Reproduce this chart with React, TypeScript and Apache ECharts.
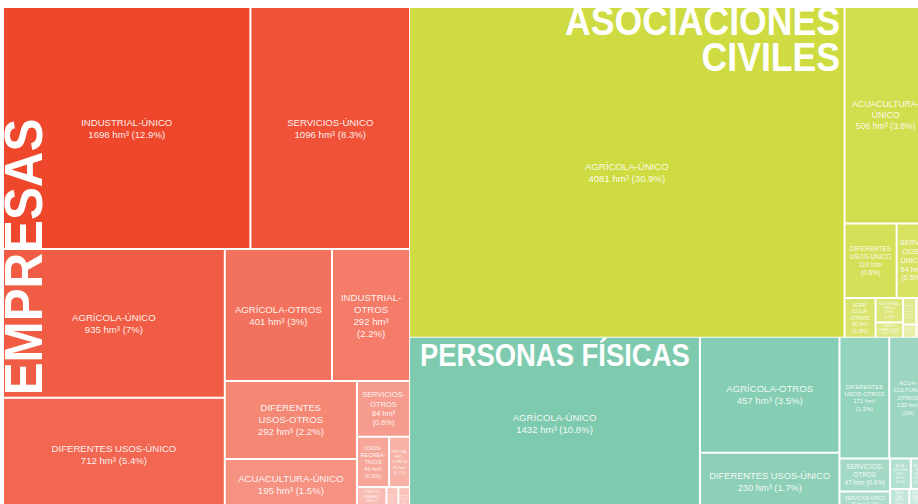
import React, { useEffect, useRef } from "react";
import * as echarts from "echarts";

const GROUPS = ["EMPRESAS", "ASOCIACIONES CIVILES", "PERSONAS FÍSICAS"];
const GROUP_COLORS = ["#ef472c", "#cedc42", "#7ecaae"];

const EMPRESAS_NAMES = [
  "INDUSTRIAL-ÚNICO", "SERVICIOS-ÚNICO", "AGRÍCOLA-ÚNICO", "DIFERENTES USOS-ÚNICO",
  "AGRÍCOLA-OTROS", "INDUSTRIAL-OTROS", "DIFERENTES USOS-OTROS", "ACUACULTURA-ÚNICO",
  "SERVICIOS-OTROS", "USOS-RECREATIVOS", "PECUARIO-OTROS", "PÚBLICO URBANO-ÚNICO",
  "PECUARIO-ÚNICO", "PÚBLICO URBANO-OTROS",
];
const EMPRESAS_VALUES = [1698, 1096, 935, 712, 401, 292, 292, 195, 84, 46, 30, 20, 8, 8];
const EMPRESAS_PCT = [12.9, 8.3, 7, 5.4, 3, 2.2, 2.2, 1.5, 0.6, 0.3, 0.2, 0.2, 0.1, 0.1];

const ASOCIACIONES_NAMES = [
  "AGRÍCOLA-ÚNICO", "ACUACULTURA-ÚNICO", "DIFERENTES USOS-ÚNICO", "SERVICIOS-ÚNICO",
  "AGRÍCOLA-OTROS", "INDUSTRIAL-ÚNICO", "PÚBLICO URBANO-ÚNICO", "PECUARIO-ÚNICO",
  "INDUSTRIAL-OTROS", "SERVICIOS-OTROS", "PECUARIO-OTROS",
];
const ASOCIACIONES_VALUES = [4081, 506, 110, 64, 35, 19, 12, 10, 8, 5, 4];
const ASOCIACIONES_PCT = [30.9, 3.8, 0.8, 0.5, 0.3, 0.1, 0.1, 0.1, 0.1, 0, 0];

const PERSONAS_NAMES = [
  "AGRÍCOLA-ÚNICO", "AGRÍCOLA-OTROS", "DIFERENTES USOS-ÚNICO", "DIFERENTES USOS-OTROS",
  "ACUACULTURA-OTROS", "SERVICIOS-OTROS", "SERVICIOS-ÚNICO", "ACUACULTURA-ÚNICO",
  "PECUARIO-ÚNICO", "INDUSTRIAL-ÚNICO", "PÚBLICO URBANO-ÚNICO",
];
const PERSONAS_VALUES = [1432, 457, 230, 171, 130, 47, 28, 18, 14, 12, 11];
const PERSONAS_PCT = [10.8, 3.5, 1.7, 1.3, 1, 0.4, 0.2, 0.1, 0.1, 0.1, 0.1];

const ALL_NAMES = [EMPRESAS_NAMES, ASOCIACIONES_NAMES, PERSONAS_NAMES];
const ALL_VALUES = [EMPRESAS_VALUES, ASOCIACIONES_VALUES, PERSONAS_VALUES];
const ALL_PCT = [EMPRESAS_PCT, ASOCIACIONES_PCT, PERSONAS_PCT];

// syllable break points used only when a word is far too long for its cell
const HYPHENATION: [string, number][] = [
  ["ACUACULTURA", 4], ["DIFERENTES", 4], ["SERVICIOS", 5], ["INDUSTRIAL", 5],
  ["RECREATIVOS", 6], ["AGRÍCOLA", 4], ["PECUARIO", 5],
];

const FONT = '"Liberation Sans", Arial, Helvetica, sans-serif';
const MAX_F = 9.6;
const LH = 1.25;

function lighten(hex: string, t: number) {
  const n = parseInt(hex.slice(1), 16);
  const r = (n >> 16) & 255, g = (n >> 8) & 255, b = n & 255;
  const m = (c: number) => Math.round(c + (255 - c) * t);
  return `rgb(${m(r)},${m(g)},${m(b)})`;
}

let ctx: CanvasRenderingContext2D | null = null;
function tw(s: string, f: number) {
  if (!ctx) ctx = document.createElement("canvas").getContext("2d");
  ctx!.font = `${f}px ${FONT}`;
  return ctx!.measureText(s).width;
}

type Tok = { t: string; sp: boolean; soft: boolean };
function tokenize(s0: string, level: number): Tok[] {
  if (level === 0) return [{ t: s0, sp: false, soft: false }];
  let s = s0;
  if (level >= 3) {
    for (const [w, k] of HYPHENATION) s = s.split(w).join(w.slice(0, k) + "\u00AD" + w.slice(k));
  }
  const out: Tok[] = [];
  let cur = "";
  for (const ch of s) {
    if (ch === " ") {
      if (cur) out.push({ t: cur, sp: true, soft: false });
      cur = "";
    } else if (ch === "-" && level >= 2) {
      cur += ch;
      out.push({ t: cur, sp: false, soft: false });
      cur = "";
    } else if (ch === "\u00AD") {
      out.push({ t: cur + "-", sp: false, soft: true });
      cur = "";
    } else cur += ch;
  }
  if (cur) out.push({ t: cur, sp: false, soft: false });
  return out;
}
function wrap(tokens: Tok[], f: number, maxW: number): string[] | null {
  const lines: string[] = [];
  let line = "";
  let pend = false;
  let lastSoft = false;
  for (const tk of tokens) {
    if (tw(tk.t, f) > maxW) return null;
    if (!line) line = tk.t;
    else {
      const base = lastSoft ? line.slice(0, -1) : line;
      const cand = base + (pend ? " " : "") + tk.t;
      if (tw(cand, f) <= maxW) line = cand;
      else {
        lines.push(line);
        line = tk.t;
      }
    }
    pend = tk.sp;
    lastSoft = tk.soft;
  }
  if (line) lines.push(line);
  return lines;
}
function fitLevel(name: string, val: string, level: number, aw: number, ah: number) {
  const nt = tokenize(name, level);
  const vt = tokenize(val, Math.min(level, 1));
  for (let f = MAX_F; f >= 1; f -= 0.1) {
    const a = wrap(nt, f, aw), b = wrap(vt, f, aw);
    if (!a || !b) continue;
    const L = [...a, ...b];
    if (L.length * f * LH <= ah) return { f, lines: L };
  }
  return null;
}
function fitLabel(name: string, val: string, w: number, h: number) {
  const pad = Math.max(1, Math.min(8, w * 0.08));
  const aw = w - 2 * pad;
  const ah = h - 2 * Math.max(1, Math.min(6, h * 0.06));
  let best: { f: number; lines: string[] } | null = null;
  for (let level = 0; level <= 2; level++) {
    const r = fitLevel(name, val, level, aw, ah);
    if (!r) continue;
    if (r.f >= 0.95 * MAX_F && !best) return r;
    if (!best || r.f > best.f * 1.1) best = r;
  }
  if (!best || best.f < 5) {
    const r = fitLevel(name, val, 3, aw, ah);
    if (r && (!best || r.f > best.f * 1.2)) best = r;
  }
  return best;
}

const labelMap: Record<string, string> = {};

function buildData(fits: Record<string, { f: number }> | null) {
  return GROUPS.map((g, gi) => ({
    name: g,
    itemStyle: { color: GROUP_COLORS[gi], borderColor: "#fff" },
    children: ALL_NAMES[gi].map((n, i) => {
      const key = g + "|" + n;
      const fit = fits ? fits[key] : null;
      return {
        name: n,
        key,
        value: ALL_VALUES[gi][i],
        itemStyle: { color: lighten(GROUP_COLORS[gi], Math.min(0.68, i * 0.058)) },
        label: fit
          ? { show: true, fontSize: fit.f, lineHeight: fit.f * LH }
          : { show: false },
      };
    }),
  }));
}

function buildOption(fits: Record<string, { f: number }> | null) {
  return {
    animation: false,
    backgroundColor: "#fff",
    series: [
      {
        type: "treemap",
        left: 4,
        top: 8,
        width: 922,
        height: 502,
        roam: false,
        nodeClick: false,
        sort: false,
        breadcrumb: { show: false },
        silent: true,
        visibleMin: 0,
        label: {
          show: true,
          position: "inside",
          align: "center",
          verticalAlign: "middle",
          padding: 0,
          overflow: "none",
          color: "rgba(255,255,255,0.92)",
          fontFamily: FONT,
          formatter: (p: any) => labelMap[p.data && p.data.key] || "",
        },
        upperLabel: { show: false },
        itemStyle: { borderColor: "#fff", borderWidth: 0 },
        levels: [
          { itemStyle: { borderWidth: 0, gapWidth: 1, borderColor: "#fff" } },
          { itemStyle: { borderWidth: 0, gapWidth: 2, borderColor: "#fff" } },
          { itemStyle: { borderWidth: 0, gapWidth: 0 } },
        ],
        data: buildData(fits),
      },
    ],
    graphic: [
      {
        type: "text",
        z: 100,
        x: 24,
        y: 257,
        rotation: Math.PI / 2,
        scaleX: 0.93,
        style: {
          text: "EMPRESAS",
          fill: "#fff",
          font: `bold 53px ${FONT}`,
          align: "center",
          verticalAlign: "middle",
        },
      },
      {
        type: "text",
        z: 100,
        x: 840,
        y: 21,
        scaleX: 0.89,
        style: {
          text: "ASOCIACIONES",
          fill: "#fff",
          font: `bold 40px ${FONT}`,
          align: "right",
          verticalAlign: "middle",
        },
      },
      {
        type: "text",
        z: 100,
        x: 840,
        y: 57,
        scaleX: 0.89,
        style: {
          text: "CIVILES",
          fill: "#fff",
          font: `bold 40px ${FONT}`,
          align: "right",
          verticalAlign: "middle",
        },
      },
      {
        type: "text",
        z: 100,
        x: 420,
        y: 355,
        scaleX: 0.885,
        style: {
          text: "PERSONAS FÍSICAS",
          fill: "#fff",
          font: `bold 31px ${FONT}`,
          align: "left",
          verticalAlign: "middle",
        },
      },
    ],
  };
}

export default function App() {
  const ref = useRef<HTMLDivElement>(null);
  useEffect(() => {
    if (!ref.current) return;
    const chart = echarts.init(ref.current, null, { renderer: "svg" });
    chart.setOption(buildOption(null) as any);
    const fits: Record<string, { f: number }> = {};
    try {
      const model = (chart as any).getModel();
      const series = model.getSeriesByIndex(0);
      const tree = series.getData().tree;
      tree.eachNode((node: any) => {
        if (node.children && node.children.length) return;
        if (!node.parentNode || node.depth !== 2) return;
        const lay = node.getLayout();
        if (!lay) return;
        const key = node.parentNode.name + "|" + node.name;
        const gi = GROUPS.indexOf(node.parentNode.name);
        const i = ALL_NAMES[gi].indexOf(node.name);
        const val = `${ALL_VALUES[gi][i]} hm³ (${ALL_PCT[gi][i]}%)`;
        const r = fitLabel(node.name, val, lay.width, lay.height);
        if (!r) return;
        fits[key] = { f: Math.round(r.f * 100) / 100 };
        labelMap[key] = r.lines.join("\n");
      });
    } catch (e) {
      // ignore
    }
    chart.setOption(buildOption(fits) as any);
    return () => chart.dispose();
  }, []);
  return (
    <div
      style={{
        position: "fixed",
        left: 0,
        top: 0,
        width: 918,
        height: 504,
        overflow: "hidden",
        background: "#fff",
      }}
    >
      <div ref={ref} style={{ width: 940, height: 520 }} />
    </div>
  );
}
